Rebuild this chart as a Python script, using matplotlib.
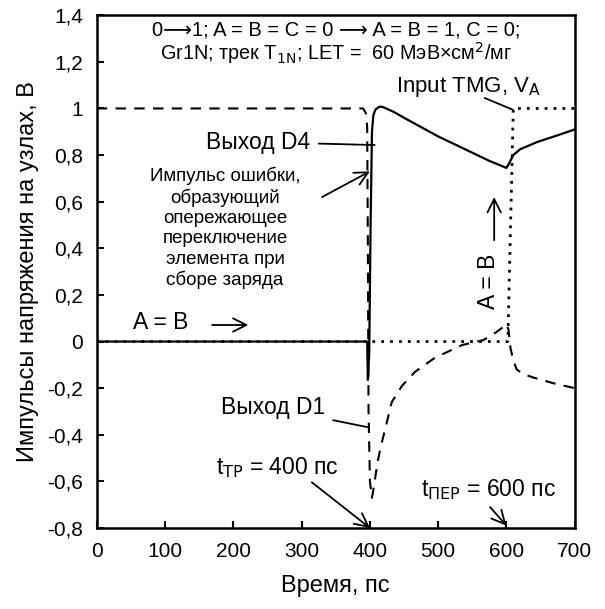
import matplotlib.pyplot as plt
from matplotlib.ticker import FuncFormatter

plt.rcParams['font.family'] = ['Liberation Sans', 'DejaVu Sans']

# Выход D4 (сплошная)
t_d4 = [0, 396, 397, 399, 401, 403, 405, 408, 414, 420, 435, 450, 475, 500, 525, 550, 575, 590, 600, 604, 610, 620, 645, 675, 700]
v_d4 = [0, 0, -0.165, -0.05, 0.5, 0.9, 0.97, 0.995, 1.008, 1.005, 0.985, 0.96, 0.92, 0.88, 0.845, 0.81, 0.775, 0.757, 0.745, 0.765, 0.8, 0.825, 0.856, 0.885, 0.91]

# Выход D1 (штриховая)
t_d1 = [0, 390, 394, 396, 397, 398, 400, 403, 406, 411, 416, 422, 432, 447, 466, 495, 535, 566, 585, 595, 600, 603, 606, 610, 615, 625, 640, 670, 700]
v_d1 = [1, 1, 0.98, 0.92, 0.4, -0.3, -0.6, -0.67, -0.62, -0.52, -0.45, -0.38, -0.26, -0.19, -0.13, -0.07, -0.015, 0.006, 0.04, 0.062, 0.075, 0.05, -0.03, -0.08, -0.12, -0.14, -0.155, -0.18, -0.2]

# Input TMG, V_A (пунктир)
t_in = [0, 602, 610, 700]
v_in = [0, 0, 1, 1]

fig = plt.figure(figsize=(6.05, 6.09), dpi=100)
ax = fig.add_axes([0.160, 0.133, 0.790, 0.842])

ax.plot(t_in, v_in, color='black', lw=2, linestyle=(0, (1, 2.2)))
ax.plot(t_d1, v_d1, color='black', lw=1.5, linestyle=(0, (5, 4)))
ax.plot(t_d4, v_d4, color='black', lw=1.6)

ax.set_xlim(0, 700)
ax.set_ylim(-0.8, 1.4)
ax.set_xticks(range(0, 701, 100))
ax.set_yticks([-0.8, -0.6, -0.4, -0.2, 0, 0.2, 0.4, 0.6, 0.8, 1, 1.2, 1.4])
ax.yaxis.set_major_formatter(FuncFormatter(lambda v, p: ('%g' % round(v, 1)).replace('.', ',')))
ax.tick_params(direction='in', length=5, width=1.5, labelsize=15, pad=10)
for s in ax.spines.values():
    s.set_linewidth(1.8)

ax.set_xlabel('Время, пс', fontsize=17, labelpad=10)
ax.set_ylabel('Импульсы напряжения на узлах, В', fontsize=17, labelpad=6)

fs = 16.5
arr = dict(arrowstyle='->', lw=1.3, color='black', shrinkA=0, shrinkB=0, mutation_scale=24)

ax.text(350, 1.337, '0⟶1; A = B = C = 0 ⟶ A = B = 1, C = 0;', ha='center', va='center', fontsize=14.5)
ax.text(350, 1.238, 'Gr1N; трек T$_{\\rm 1N}$; LET =  60 МэВ×см$^{\\rm 2}$/мг', ha='center', va='center', fontsize=14.3)

ax.text(545, 1.09, 'Input TMG, V$_{\\rm A}$', ha='center', va='center', fontsize=16)
ax.annotate('', xy=(609, 0.995), xytext=(568, 1.045),
            arrowprops=dict(arrowstyle='-', lw=1.3, color='black', shrinkA=0, shrinkB=0))

ax.annotate('Выход D4', xy=(407, 0.843), xytext=(313, 0.856), ha='right', va='center', fontsize=fs,
            arrowprops=dict(arrowstyle='-', lw=1.3, color='black', shrinkA=4, shrinkB=0))

ax.annotate('', xy=(400, 0.73), xytext=(330, 0.62), arrowprops=arr)
ax.text(188, 0.487, 'Импульс ошибки,\nобразующий\nопережающее\nпереключение\nэлемента при\nсборе заряда',
        ha='center', va='center', fontsize=13.5, linespacing=1.25)

ax.text(93, 0.08, 'A = B', ha='center', va='center', fontsize=fs)
ax.annotate('', xy=(222, 0.071), xytext=(169, 0.071), arrowprops=arr)

ax.annotate('Выход D1', xy=(396, -0.367), xytext=(334, -0.285), ha='right', va='center', fontsize=fs,
            arrowprops=dict(arrowstyle='-', lw=1.3, color='black', shrinkA=4, shrinkB=0))

ax.text(264, -0.54, 't$_{\\rm TP}$ = 400 пс', ha='center', va='center', fontsize=fs)
ax.annotate('', xy=(400, -0.8), xytext=(315, -0.604), arrowprops=arr)

ax.text(574, -0.637, 't$_{\\rm ПЕР}$ = 600 пс', ha='center', va='center', fontsize=fs)
ax.annotate('', xy=(600, -0.79), xytext=(576, -0.71), arrowprops=arr)

ax.text(573, 0.26, 'A = B', ha='center', va='center', fontsize=fs, rotation=90)
ax.annotate('', xy=(582, 0.62), xytext=(582, 0.435), arrowprops=arr)

fig.savefig('out.png', dpi=100)
